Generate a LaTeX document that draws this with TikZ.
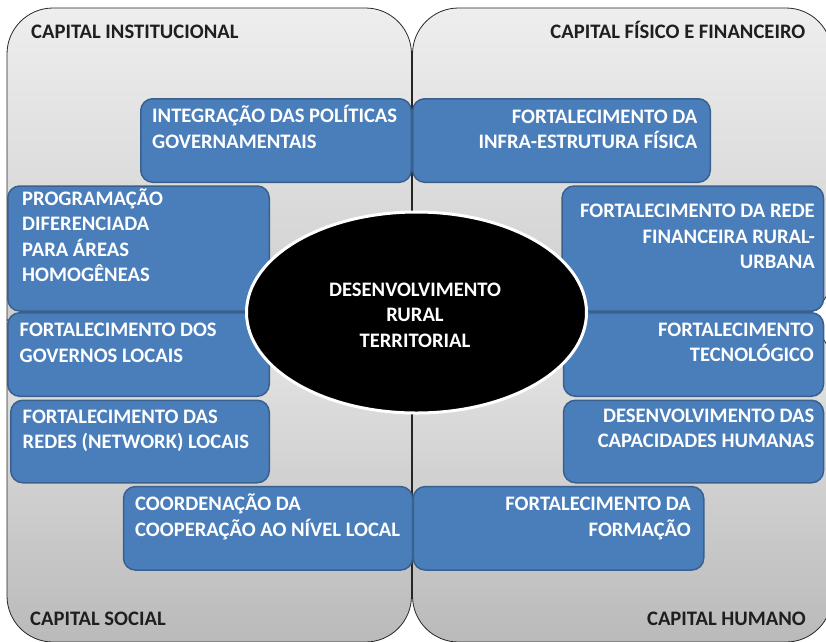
\documentclass[tikz,border=0pt]{standalone}
\usepackage{fontspec}
\setmainfont{Carlito}
\usetikzlibrary{shapes.geometric}

\begin{document}
\begin{tikzpicture}
    [
        x=1pt, y=-1pt,
        every node/.style={font=\fontsize{20.6}{25.5}\selectfont\bfseries, inner sep=0pt},
        quadrante/.style={draw=black!85, line width=0.8pt},
        caixa/.style={rectangle, rounded corners=12pt, fill=caixaAzul, draw=caixaBorda, line width=1.5pt},
        textocaixa/.style={text=white},
        rotulo/.style={text=black!88}
    ]
    \definecolor{caixaAzul}{RGB}{74,126,187}
    \definecolor{caixaBorda}{RGB}{58,96,142}
    \definecolor{quadTopoA}{RGB}{238,238,238}
    \definecolor{quadBaseA}{RGB}{206,206,206}
    \definecolor{quadTopoB}{RGB}{231,231,231}
    \definecolor{quadBaseB}{RGB}{186,186,186}
    \clip (0,0) rectangle (826,641);
    \fill[white] (0,0) rectangle (826,641);

    % quadrantes
    \draw[quadrante, top color=quadTopoB, bottom color=quadBaseB]
        (7,320) [rounded corners=46pt] |- (209,642) -| (411.5,320) [sharp corners] -- cycle;
    \draw[quadrante, top color=quadTopoB, bottom color=quadBaseB]
        (412.5,320) [rounded corners=46pt] |- (622,642) -| (832,320) [sharp corners] -- cycle;
    \draw[quadrante, top color=quadTopoA, bottom color=quadBaseA]
        (7,320) [rounded corners=46pt] |- (209,8) -| (411.5,320) [sharp corners] -- cycle;
    \draw[quadrante, top color=quadTopoA, bottom color=quadBaseA]
        (412.5,320) [rounded corners=46pt] |- (622,8) -| (832,320) [sharp corners] -- cycle;

    \node[rotulo, anchor=base west] (capInstitucional) at (31,38) {CAPITAL INSTITUCIONAL};
    \node[rotulo, anchor=base east] (capFisico) at (805.5,38) {CAPITAL FÍSICO E FINANCEIRO};
    \node[rotulo, anchor=base west] (capSocial) at (30,625.5) {CAPITAL SOCIAL};
    \node[rotulo, anchor=base east] (capHumano) at (806,625.5) {CAPITAL HUMANO};

    % caixas da esquerda
    \node[caixa, minimum width=270.5pt, minimum height=83.5pt] (integracao) at (276,140.5) {};
    \node[caixa, minimum width=261.5pt, minimum height=125pt] (programacao) at (138.5,248.5) {};
    \node[caixa, minimum width=261.5pt, minimum height=83.5pt] (governos) at (138.5,354.5) {};
    \node[caixa, minimum width=258.5pt, minimum height=82.5pt] (redes) at (140,441.5) {};
    \node[caixa, minimum width=289pt, minimum height=83.5pt] (coordenacao) at (268,528.3) {};

    % caixas da direita
    \node[caixa, minimum width=297.5pt, minimum height=83.5pt] (infra) at (561.5,140.5) {};
    \node[caixa, minimum width=261.5pt, minimum height=125pt] (financeira) at (692.8,248.5) {};
    \node[caixa, minimum width=260pt, minimum height=83.5pt] (tecnologico) at (693.5,354.5) {};
    \node[caixa, minimum width=260pt, minimum height=82.5pt] (capacidades) at (693.5,441.5) {};
    \node[caixa, minimum width=290.5pt, minimum height=83.5pt] (formacao) at (558.5,528.3) {};

    % textos (base = ultima linha)
    \node[textocaixa, align=left, anchor=base west] (tIntegracao) at (152,148)
        {INTEGRAÇÃO DAS POLÍTICAS\\GOVERNAMENTAIS};
    \node[textocaixa, align=left, anchor=base west] (tProgramacao) at (22,281.5)
        {PROGRAMAÇÃO\\DIFERENCIADA\\PARA ÁREAS\\HOMOGÊNEAS};
    \node[textocaixa, align=left, anchor=base west] (tGovernos) at (19.5,362)
        {FORTALECIMENTO DOS\\GOVERNOS LOCAIS};
    \node[textocaixa, align=left, anchor=base west] (tRedes) at (22.5,448.5)
        {FORTALECIMENTO DAS\\REDES (NETWORK) LOCAIS};
    \node[textocaixa, align=left, anchor=base west] (tCoordenacao) at (135,536)
        {COORDENAÇÃO DA\\COOPERAÇÃO AO NÍVEL LOCAL};
    \node[textocaixa, align=right, anchor=base east] (tInfra) at (697.5,148.5)
        {FORTALECIMENTO DA\\INFRA-ESTRUTURA FÍSICA};
    \node[textocaixa, align=right, anchor=base east] (tFinanceira) at (815,268.5)
        {FORTALECIMENTO DA REDE\\FINANCEIRA RURAL-\\URBANA};
    \node[textocaixa, align=right, anchor=base east] (tTecnologico) at (814,361.7)
        {FORTALECIMENTO\\TECNOLÓGICO};
    \node[textocaixa, align=right, anchor=base east] (tCapacidades) at (814.5,447.7)
        {DESENVOLVIMENTO DAS\\CAPACIDADES HUMANAS};
    \node[textocaixa, align=right, anchor=base east] (tFormacao) at (691,536)
        {FORTALECIMENTO DA\\FORMAÇÃO};

    % elipse central
    \node[ellipse, fill=black, draw=white, line width=3pt, minimum width=340pt, minimum height=201pt]
        (centro) at (416.5,312.5) {};
    \node[text=white, align=center, anchor=base] (tCentro) at (415,347.3)
        {DESENVOLVIMENTO\\RURAL\\TERRITORIAL};
\end{tikzpicture}
\end{document}
